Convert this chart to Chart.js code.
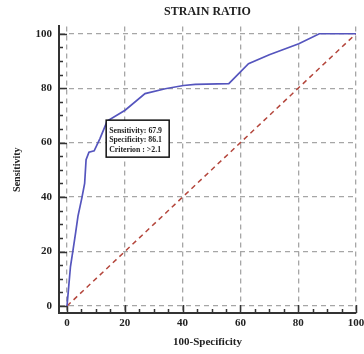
<!DOCTYPE html>
<html>
<head>
<meta charset="utf-8">
<script src="https://cdn.jsdelivr.net/npm/chart.js@4"></script>
<style>
  body { margin: 0; background: #fff; }
  canvas { display: block; }
</style>
</head>
<body>
<canvas id="roc" width="364" height="354"></canvas>
<script>
// ROC curve
const fpr  = [0, 0.5, 1.2, 2, 3, 3.8, 5.2, 6.1, 6.6, 7.6, 9.4, 11.4, 13.9, 20.1, 27, 34, 40.3, 44.4, 56, 62.8, 70, 80.2, 87.3, 100];
const sens = [0, 6, 14.5, 20, 27, 33, 40, 45, 53.7, 56.5, 57, 61.5, 67.9, 71.9, 78, 79.8, 81, 81.4, 81.7, 89, 92.3, 96.3, 100, 100];
const refX = [0, 100];
const refY = [0, 100];

const tickValues = [0, 5, 10, 15, 20, 25, 30, 35, 40, 45, 50, 55, 60, 65, 70, 75, 80, 85, 90, 95, 100];
const majorTicks = [0, 20, 40, 60, 80, 100];

const cutPoint = [13.9, 67.9];
const cutLabels = ['Sensitivity: 67.9', 'Specificity: 86.1', 'Criterion : >2.1'];

Chart.defaults.font.family = 'Liberation Serif';
Chart.defaults.font.weight = 'bold';
Chart.defaults.color = '#222';

const isMajor = v => majorTicks.includes(v);

function axis(title, isX) {
  return {
    type: 'linear',
    min: isX ? -2.77 : -2.57,
    max: isX ? 100 : 102.7,
    afterBuildTicks: s => { s.ticks = tickValues.map(v => ({ value: v })); },
    afterFit: s => {
      if (isX) { s.height = 41; s.paddingLeft = 0; s.paddingRight = 0; }
      else { s.width = 59; s.paddingTop = 0; s.paddingBottom = 0; }
    },
    ticks: {
      autoSkip: false,
      maxRotation: 0,
      padding: isX ? 4 : 7,
      font: { size: 11, weight: 'bold' },
      callback: v => isMajor(v) ? String(v) : ''
    },
    grid: {
      drawTicks: false,
      color: c => (c.tick && isMajor(c.tick.value)) ? '#a6a6a6' : 'rgba(0,0,0,0)',
      lineWidth: 1.3
    },
    // in v4 border.dash is the dash of the grid lines
    border: { display: true, color: '#333', width: 2, dash: [5, 4] },
    title: {
      display: true,
      text: title,
      font: { size: isX ? 11 : 10, weight: 'bold' },
      padding: isX ? { top: 0, bottom: 5 } : { top: 11, bottom: 0 }
    }
  };
}

const innerTicks = {
  id: 'innerTicks',
  beforeDatasetsDraw(chart) {
    const { ctx, chartArea, scales: { x, y } } = chart;
    ctx.save();
    ctx.strokeStyle = '#333';
    ctx.lineWidth = 1.5;
    ctx.beginPath();
    tickValues.forEach(v => {
      const len = isMajor(v) ? 8 : 4;
      const py = Math.round(y.getPixelForValue(v)) + 0.5;
      ctx.moveTo(chartArea.left, py);
      ctx.lineTo(chartArea.left + len, py);
      const px = Math.round(x.getPixelForValue(v)) + 0.5;
      ctx.moveTo(px, chartArea.bottom);
      ctx.lineTo(px, chartArea.bottom - len);
    });
    ctx.stroke();
    ctx.restore();
  }
};

const cutBox = {
  id: 'cutBox',
  afterDraw(chart) {
    const { ctx, scales: { x, y } } = chart;
    const bx = x.getPixelForValue(cutPoint[0]) - 1;
    const by = y.getPixelForValue(cutPoint[1]) - 1;
    const w = 63, h = 37;
    ctx.save();
    ctx.fillStyle = '#fff';
    ctx.fillRect(bx, by, w, h);
    ctx.strokeStyle = '#111';
    ctx.lineWidth = 1.5;
    ctx.strokeRect(bx, by, w, h);
    ctx.fillStyle = '#222';
    ctx.font = 'bold 7.8px "Liberation Serif"';
    ctx.textBaseline = 'middle';
    cutLabels.forEach((t, i) => ctx.fillText(t, bx + 3, by + 11 + i * 9.3));
    ctx.restore();
  }
};

new Chart(document.getElementById('roc'), {
  type: 'scatter',
  data: {
    datasets: [
      {
        data: fpr.map((v, i) => ({ x: v, y: sens[i] })),
        showLine: true,
        borderColor: 'rgb(85,85,190)',
        borderWidth: 1.7,
        pointRadius: 0,
        tension: 0,
        order: 1
      },
      {
        data: refX.map((v, i) => ({ x: v, y: refY[i] })),
        showLine: true,
        borderColor: 'rgb(180,70,60)',
        borderWidth: 1.5,
        borderDash: [5, 4],
        pointRadius: 0,
        order: 2
      }
    ]
  },
  options: {
    responsive: false,
    animation: false,
    layout: { padding: { left: 0, right: 8, top: 0, bottom: 0 } },
    plugins: {
      legend: { display: false },
      tooltip: { enabled: false },
      title: {
        display: true,
        text: 'STRAIN RATIO',
        fullSize: false,
        font: { size: 12, weight: 'bold' },
        color: '#222',
        padding: { top: 5, bottom: 7 }
      }
    },
    scales: { x: axis('100-Specificity', true), y: axis('Sensitivity', false) }
  },
  plugins: [innerTicks, cutBox]
});
</script>
</body>
</html>
